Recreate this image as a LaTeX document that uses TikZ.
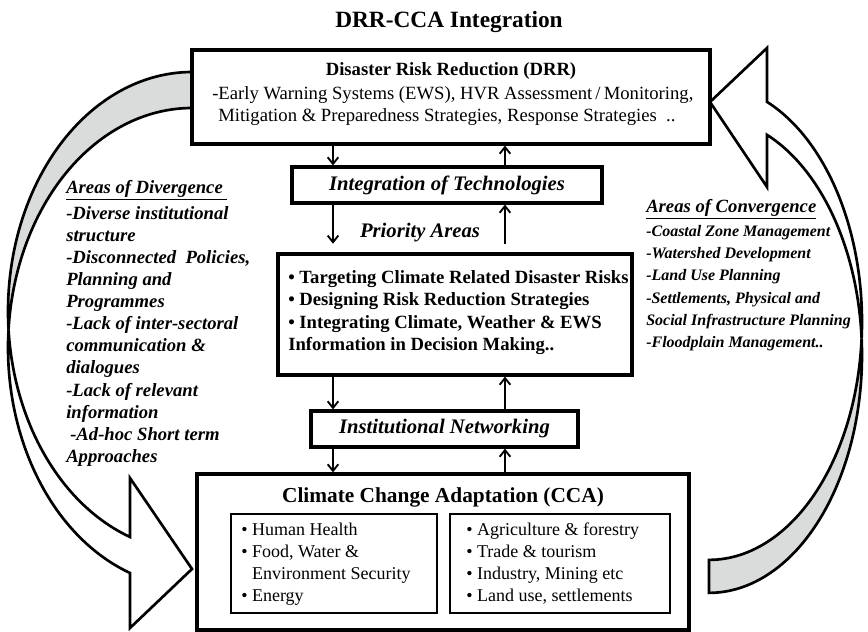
\documentclass[tikz,border=0pt]{standalone}
\usepackage{fontspec}
\setmainfont{Liberation Serif}
\usepackage{tikz}
\usetikzlibrary{arrows.meta}
\definecolor{ribbongray}{RGB}{217,220,219}

\begin{document}
\begin{tikzpicture}[x=0.75pt,y=0.75pt,
	box/.style={draw=black,line width=2.4pt,fill=white,inner sep=0pt},
	subbox/.style={draw=black,line width=2.2pt,fill=white,inner sep=0pt},
	flow/.style={line width=1.4pt,-{Straight Barb[length=5pt,width=8pt]}},
	ribbon/.style={draw=black,line width=2pt,fill=white},
	bi/.style={font=\fontsize{15.5}{18}\selectfont\bfseries\itshape},
	textblock/.style={align=left,inner sep=0pt}]
	\useasboundingbox (0,0) rectangle (868,632);

	% left ribbon: white front, grey back near the tail
	\draw[ribbon] plot[domain=184.31:250.3,samples=50] ({192+184*cos(\x)},{320.5+239.5*sin(\x)}) -- (130,154) -- (192,63) -- (130,4) -- plot[domain=250.3:175.69,samples=50] ({192+184*cos(\x)},{284.5+239.5*sin(\x)}) -- cycle;
	\draw[ribbon,fill=ribbongray] plot[domain=90:184.31,samples=60] ({192+184*cos(\x)},{320.5+239.5*sin(\x)}) -- plot[domain=175.69:90,samples=60] ({192+184*cos(\x)},{284.5+239.5*sin(\x)}) -- cycle;
	% right ribbon
	\draw[ribbon] plot[domain=363.98:427.7,samples=50] ({709+153*cos(\x)},{277+237.9*sin(\x)}) -- (767,445) -- (710,530) -- (767,584) -- plot[domain=427.7:356.02,samples=50] ({709+153*cos(\x)},{310+237.9*sin(\x)}) -- cycle;
	\draw[ribbon,fill=ribbongray] plot[domain=270:363.98,samples=60] ({709+153*cos(\x)},{277+237.9*sin(\x)}) -- plot[domain=356.02:270,samples=60] ({709+153*cos(\x)},{310+237.9*sin(\x)}) -- cycle;

	\node[font=\fontsize{17.5}{21}\selectfont\bfseries] (title) at (449,610) {DRR-CCA Integration};

	\node[box,minimum width=388.5pt,minimum height=70.5pt] (drr) at (451,535) {};
	\node[font=\fontsize{14}{16.5}\selectfont\bfseries] (drrhead) at (451,561) {Disaster Risk Reduction (DRR)};
	\node[textblock,anchor=west,font=\fontsize{14}{16.5}\selectfont] (drrtext) at (212,526) {-Early Warning Systems (EWS), HVR Assessment\,/\,Monitoring,\\\hspace*{4.5pt}Mitigation \& Preparedness Strategies, Response Strategies\ \ ..};

	\node[box,bi,minimum width=232.5pt,minimum height=27pt] (tech) at (447,447) {Integration of Technologies};
	\node[bi] (prioareas) at (420,399) {Priority Areas};

	\node[box,minimum width=265.5pt,minimum height=90.75pt] (prio) at (455,317.5) {};
	\node[textblock,anchor=west,font=\fontsize{14}{16.7}\selectfont\bfseries] (priotext) at (288,319.5) {• Targeting Climate Related Disaster Risks\\• Designing Risk Reduction Strategies\\• Integrating Climate, Weather \& EWS\\Information in Decision Making..};

	\node[box,bi,minimum width=200.25pt,minimum height=27pt] (net) at (444.5,203) {Institutional Networking};

	\node[box,minimum width=369pt,minimum height=117pt] (cca) at (443,80) {};
	\node[font=\fontsize{16}{19}\selectfont\bfseries] (ccahead) at (443,135) {Climate Change Adaptation (CCA)};
	\node[subbox,minimum width=154.5pt,minimum height=74.25pt] (health) at (334,68.5) {};
	\node[subbox,minimum width=165pt,minimum height=74.25pt] (sectors) at (560,68.5) {};
	\node[textblock,anchor=west,font=\fontsize{13.5}{16.5}\selectfont] (healthtext) at (241,68) {• Human Health\\• Food, Water \&\\\hphantom{•\ }Environment Security\\• Energy};
	\node[textblock,anchor=west,font=\fontsize{13.5}{16.5}\selectfont] (sectortext) at (466,68) {• Agriculture \& forestry\\• Trade \& tourism\\• Industry, Mining etc\\• Land use, settlements};

	\node[textblock,anchor=north west,font=\fontsize{14}{16.6}\selectfont\bfseries\itshape] (diverge) at (66,452) {\underline{Areas of Divergence\ }\\[2.6pt]-Diverse institutional\\structure\\-Disconnected\ \ Policies,\\Planning and\\Programmes\\-Lack of inter-sectoral\\communication \&\\dialogues\\-Lack of relevant\\information\\\hspace*{3pt}-Ad-hoc Short term\\Approaches};
	\node[textblock,anchor=north west,font=\fontsize{12}{16.65}\selectfont\bfseries\itshape] (converge) at (646,433) {{\fontsize{14}{16.65}\selectfont\underline{Areas of Convergence}}\\[1.4pt]-Coastal Zone Management\\-Watershed Development\\-Land Use Planning\\-Settlements, Physical and\\Social Infrastructure Planning\\-Floodplain Management..};

	\coordinate (lane1) at (333,0);
	\coordinate (lane2) at (505,0);
	\draw[flow] (drr.south -| lane1) -- (tech.north -| lane1);
	\draw[flow] (tech.north -| lane2) -- (drr.south -| lane2);
	\draw[flow,shorten >=6.5pt] (tech.south -| lane1) -- (prio.north -| lane1);
	\draw[flow,shorten <=6pt] (prio.north -| lane2) -- (tech.south -| lane2);
	\draw[flow] (prio.south -| lane1) -- (net.north -| lane1);
	\draw[flow] (net.north -| lane2) -- (prio.south -| lane2);
	\draw[flow] (net.south -| lane1) -- (cca.north -| lane1);
	\draw[flow] (cca.north -| lane2) -- (net.south -| lane2);
\end{tikzpicture}
\end{document}
